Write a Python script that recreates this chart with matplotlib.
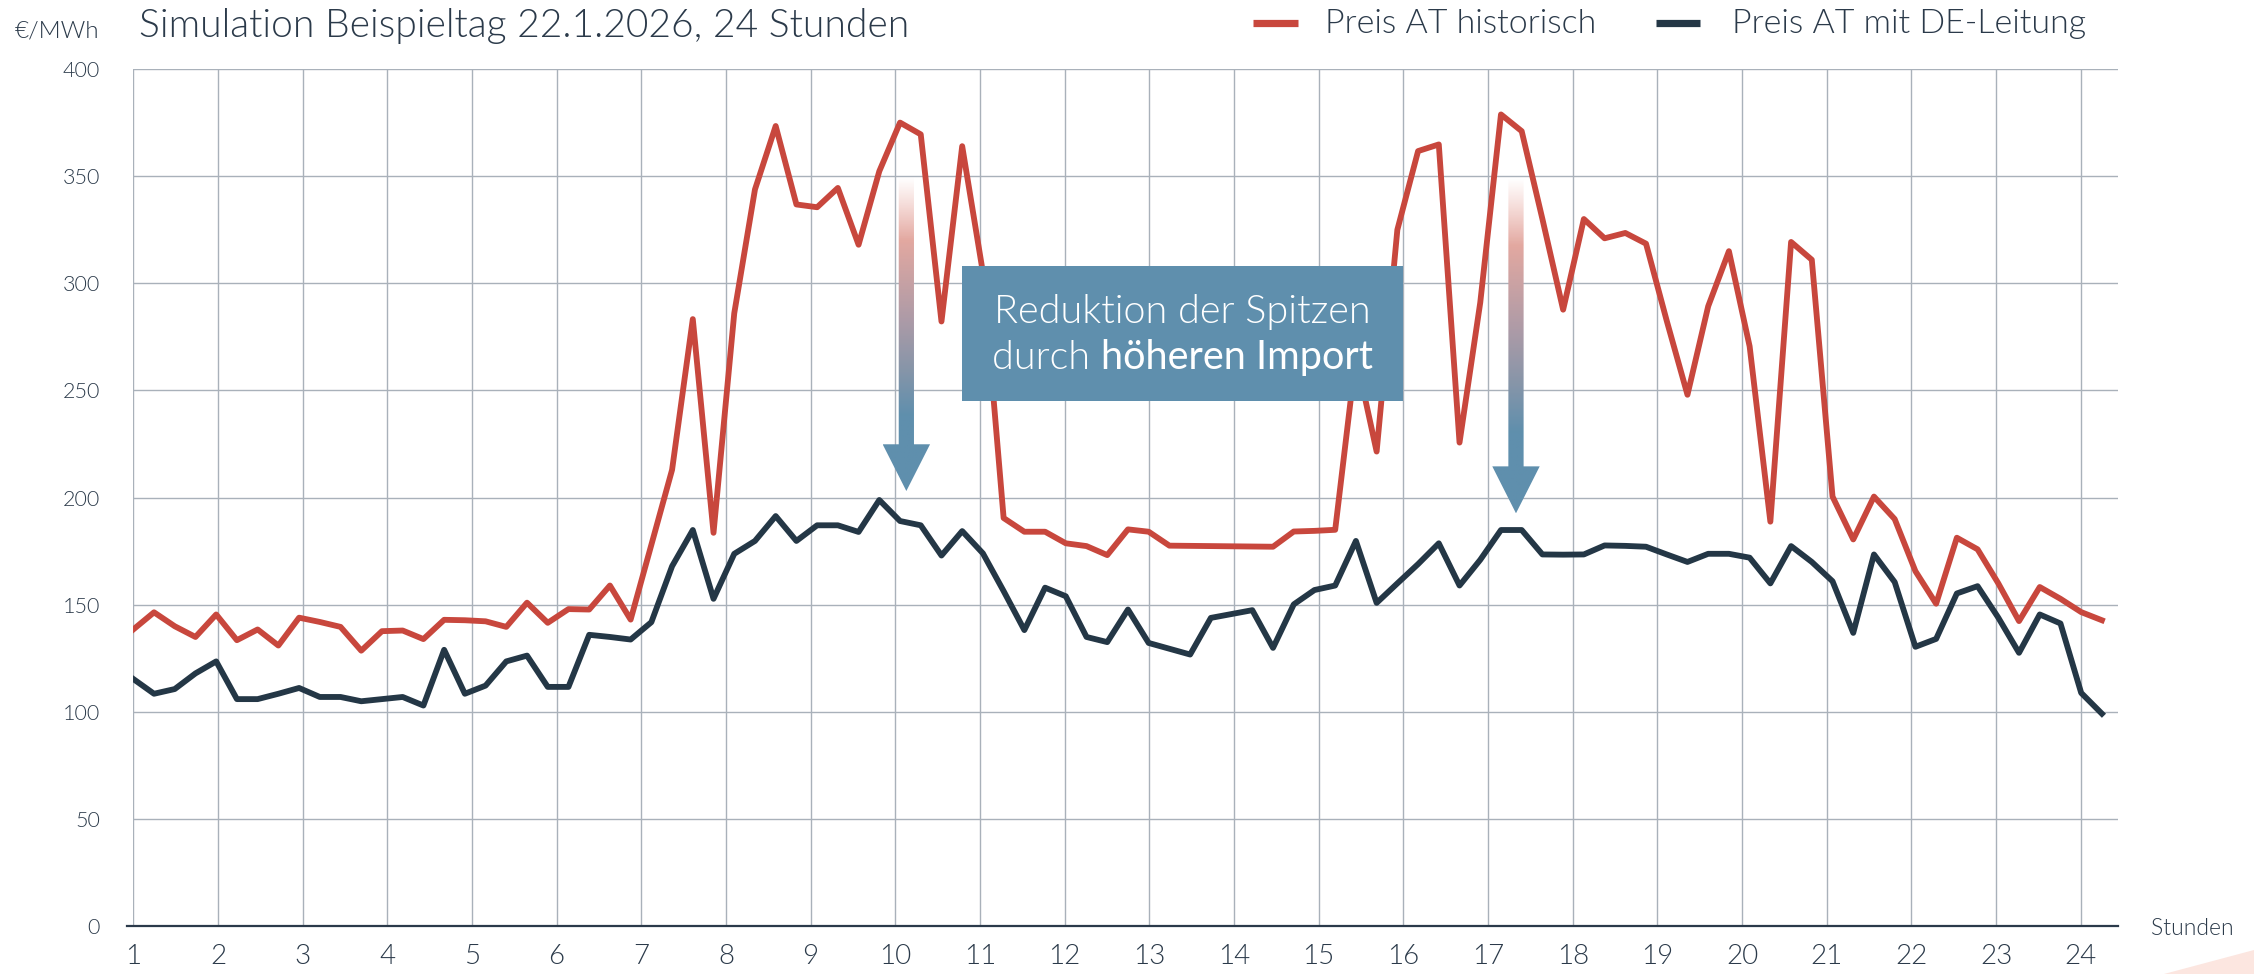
import numpy as np
import matplotlib.pyplot as plt
from matplotlib.patches import Polygon, Rectangle
from matplotlib.lines import Line2D
from matplotlib.colors import LinearSegmentedColormap
from matplotlib.transforms import IdentityTransform

plt.rcParams['font.family'] = ['Lato', 'DejaVu Sans']

# 96 Viertelstunden, Achse beschriftet mit Stunden 1..24
stunden = list(range(1, 25))
preis_historisch = [
    138.5, 146.5, 140, 135, 145.5, 133.5, 138.5, 131, 144, 142, 139.7, 128.6,
    137.7, 138, 134, 143, 142.8, 142.3, 139.7, 151, 141.6, 148, 147.8, 159,
    143.1, 178, 213, 283.3, 183.6, 286, 343.8, 373.4, 336.8, 335.5, 344.5, 318,
    352.3, 375, 369.5, 282.2, 364, 305, 190.5, 184.1, 184.1, 178.7, 177.4, 173.2,
    185.2, 184.1, 177.6, 177.5, 177.4, 177.3, 177.2, 177.1, 184.2, 184.5, 185, 266,
    221.5, 325, 361.7, 364.8, 225.7, 291, 378.8, 371, 330, 287.7, 330, 321,
    323.5, 318.5, 282.5, 248, 289.3, 315, 270.6, 188.8, 319.3, 311, 200.5, 180.5,
    200.5, 190, 165.7, 150.5, 181.3, 175.9, 160, 142.4, 158.3, 152.8, 146.6, 142.8]
preis_de_leitung = [
    115.4, 108.5, 110.7, 118, 123.6, 106, 106, 108.5, 111.2, 107, 107, 105,
    106, 107, 103, 129, 108.5, 112.3, 123.6, 126.3, 111.7, 111.7, 136, 135,
    133.8, 141.9, 168, 184.9, 152.8, 173.8, 179.8, 191.4, 179.8, 187.1, 187.1, 184,
    198.9, 189.1, 187.1, 173, 184.4, 174, 156.4, 138.2, 158, 154, 135, 132.6,
    147.8, 132.2, 129.5, 126.8, 143.9, 145.7, 147.5, 129.9, 150.2, 156.9, 159, 179.8,
    150.9, 160, 169, 178.7, 159, 171, 184.9, 184.9, 173.5, 173.4, 173.5, 177.7,
    177.5, 177.1, 173.5, 170, 173.8, 173.8, 172, 160, 177.4, 170, 161, 136.9,
    173.5, 160.6, 130.4, 134.1, 155.3, 158.7, 144, 127.6, 145.5, 141.3, 108.9, 99.2]
y_ticks = [0, 50, 100, 150, 200, 250, 300, 350, 400]

ROT = '#C8473D'
NAVY = '#243746'
TEXT = '#2B3A4A'
BLAU = '#5F8FAD'
GRID = '#A9B1BA'
LIGHT = 300

W, H = 2254, 974
fig = plt.figure(figsize=(W / 100, H / 100), dpi=100)
ax = fig.add_axes([133.3 / W, 1 - 926.3 / H, (2118 - 133.3) / W, (926.3 - 69) / H])

x = np.linspace(1, 24.25, len(preis_historisch))
ax.plot(x, preis_historisch, color=ROT, lw=4.2, solid_joinstyle='round', zorder=3)
ax.plot(x, preis_de_leitung, color=NAVY, lw=4.2, solid_joinstyle='round', zorder=4)

ax.set_xticks(stunden)
ax.set_yticks(y_ticks)
ax.grid(color=GRID, lw=1.0)
ax.set_axisbelow(True)
for s in ax.spines.values():
    s.set_visible(False)
ax.tick_params(length=0)
ax.tick_params(axis='y', labelsize=15.5, labelcolor=TEXT, pad=24)
ax.tick_params(axis='x', labelsize=20, labelcolor=TEXT, pad=13)
for lab in ax.get_xticklabels() + ax.get_yticklabels():
    lab.set_fontweight(LIGHT)
ax.plot([-0.003, 1], [0, 0], transform=ax.transAxes, color=TEXT, lw=1.6,
        clip_on=False, zorder=5)


def gradient_arrow(xc, y_top, y_head, y_tip, shaft_w, head_w):
    verts = [(xc - shaft_w / 2, y_top), (xc + shaft_w / 2, y_top),
             (xc + shaft_w / 2, y_head), (xc + head_w / 2, y_head),
             (xc, y_tip), (xc - head_w / 2, y_head), (xc - shaft_w / 2, y_head)]
    poly = Polygon(verts, closed=True, facecolor='none', edgecolor='none')
    ax.add_patch(poly)
    cmap = LinearSegmentedColormap.from_list('pfeil', [
        (0.0, (0.93, 0.70, 0.67, 0.0)), (0.2, (0.89, 0.66, 0.63, 1.0)),
        (0.45, '#AE9BA7'), (0.62, '#8595A9'), (0.76, BLAU), (1.0, BLAU)])
    grad = np.linspace(0, 1, 256).reshape(-1, 1)
    im = ax.imshow(grad, cmap=cmap, extent=[xc - head_w / 2, xc + head_w / 2, y_tip, y_top],
                   origin='upper', aspect='auto', zorder=6)
    im.set_clip_path(poly)


gradient_arrow(10.13, 349.5, 224.9, 203.1, 0.18, 0.56)
gradient_arrow(17.33, 349, 214.6, 192.7, 0.18, 0.56)

ax.add_patch(Rectangle((10.787, 245), 15.996 - 10.787, 308.1 - 245,
                       facecolor=BLAU, edgecolor='none', zorder=7))

ax.set_xlim(1, 24.44)
ax.set_ylim(0, 400)


def fx(px):
    return px / W


def fy(py):
    return 1 - py / H


# Titel und Einheiten
fig.text(fx(15), fy(37.3), '€/MWh', fontsize=17.5, color=TEXT, fontweight=LIGHT, va='baseline')
fig.text(fx(139), fy(37.3), 'Simulation Beispieltag 22.1.2026, 24 Stunden', fontsize=28.1,
         color=TEXT, fontweight=LIGHT, va='baseline')
fig.text(fx(2151), fy(935), 'Stunden', fontsize=16.5, color=TEXT, fontweight=LIGHT, va='baseline')

# Legende
for x0, x1, col, lx, label in [(1253, 1298, ROT, 1325, 'Preis AT historisch'),
                               (1656, 1700, NAVY, 1732, 'Preis AT mit DE-Leitung')]:
    fig.add_artist(Line2D([fx(x0), fx(x1)], [fy(23), fy(23)], color=col, lw=5.2,
                          solid_capstyle='butt', transform=fig.transFigure))
    fig.text(fx(lx), fy(33.3), label, fontsize=24.5, color=TEXT, fontweight=LIGHT, va='baseline')

# Text im Kasten
fig.text(fx(1182.6), fy(323.3), 'Reduktion der Spitzen', fontsize=28.5, color='white',
         fontweight=LIGHT, ha='center', va='baseline', zorder=10)
renderer = fig.canvas.get_renderer()
t1 = fig.text(0, 0, 'durch ', fontsize=28.5, color='white', fontweight=LIGHT,
              va='baseline', zorder=10, transform=IdentityTransform())
t2 = fig.text(0, 0, 'höheren Import', fontsize=28.5, color='white', fontweight='normal',
              va='baseline', zorder=10, transform=IdentityTransform())
w1 = t1.get_window_extent(renderer).width
w2 = t2.get_window_extent(renderer).width
start = 1182.6 - (w1 + w2) / 2
t1.set_position((start, H - 369.3))
t2.set_position((start + w1, H - 369.3))

# Dekor unten rechts
fig.add_artist(Polygon([(fx(2164), fy(974)), (fx(2254), fy(950)), (fx(2254), fy(974))],
                       closed=True, facecolor='#FCE6E0', edgecolor='none',
                       transform=fig.transFigure))

fig.savefig('out.png', dpi=100)
